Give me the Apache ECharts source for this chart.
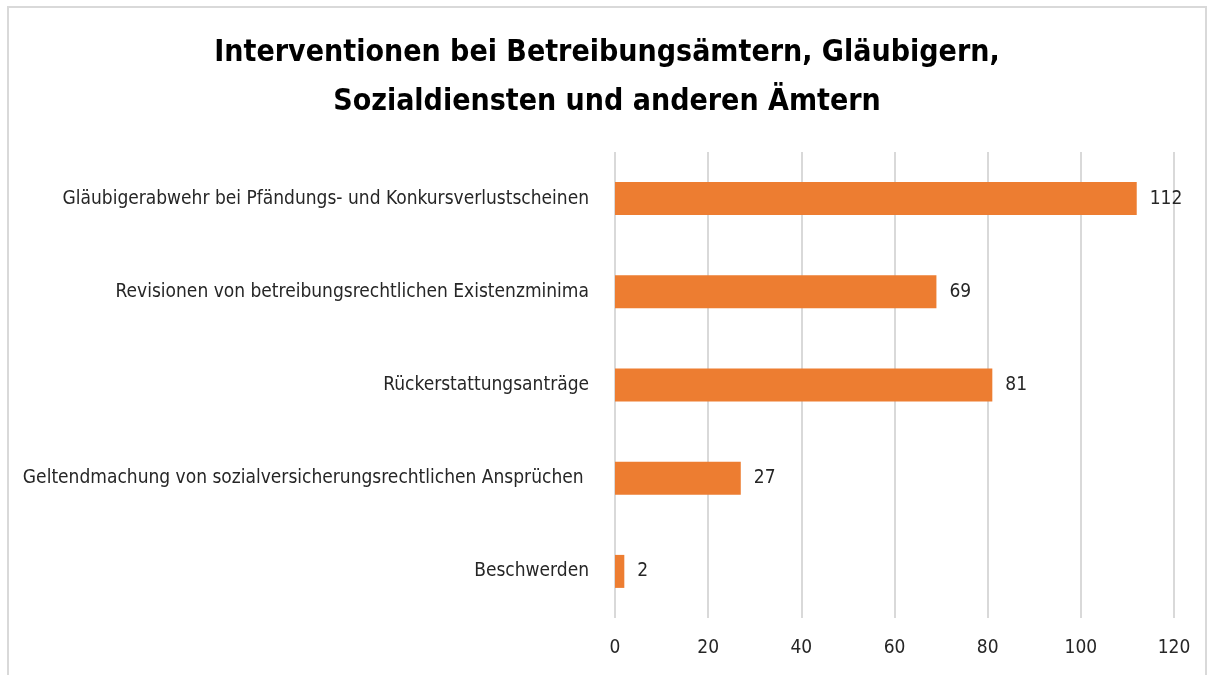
<!DOCTYPE html>
<html lang="de">
<head>
<meta charset="UTF-8">
<title>Interventionen</title>
<script src="https://cdn.jsdelivr.net/npm/echarts@6/dist/echarts.min.js"></script>
<style>
  html,body{margin:0;padding:0;background:#fff;}
  #main{width:1214px;height:675px;}
</style>
</head>
<body>
<div id="main"></div>
<script>
  // Daten
  var kategorien = [
    'Beschwerden',
    'Geltendmachung von sozialversicherungsrechtlichen Ansprüchen ',
    'Rückerstattungsanträge',
    'Revisionen von betreibungsrechtlichen Existenzminima',
    'Gläubigerabwehr bei Pfändungs- und Konkursverlustscheinen'
  ];
  var werte = [2, 27, 81, 69, 112];
  var achseMax = 120;
  var achseSchritt = 20;

  var schrift = '"Liberation Sans Narrow", "DejaVu Sans Condensed", sans-serif';

  var myChart = echarts.init(document.getElementById('main'));
  var option = {
    backgroundColor: '#fff',
    title: {
      text: 'Interventionen bei Betreibungsämtern, Gläubigern,\nSozialdiensten und anderen Ämtern',
      left: 'center',
      top: 24,
      textStyle: {
        fontFamily: schrift,
        fontWeight: 'bold',
        fontSize: 30,
        lineHeight: 49,
        color: '#000'
      }
    },
    graphic: [{
      type: 'rect',
      shape: {x: 8, y: 7, width: 1198, height: 700},
      style: {fill: 'none', stroke: '#d9d9d9', lineWidth: 2},
      silent: true
    }],
    grid: {left: 615, right: 40, top: 152, bottom: 57},
    xAxis: {
      type: 'value',
      min: 0,
      max: achseMax,
      interval: achseSchritt,
      axisLine: {show: false},
      axisTick: {show: false},
      axisLabel: {
        margin: 21,
        fontFamily: schrift,
        fontSize: 19,
        color: '#262626'
      },
      splitLine: {lineStyle: {color: '#d9d9d9', width: 2}}
    },
    yAxis: {
      type: 'category',
      data: kategorien,
      axisLine: {show: false},
      axisTick: {show: false},
      axisLabel: {
        margin: 26,
        fontFamily: schrift,
        fontSize: 19,
        color: '#262626'
      }
    },
    series: [{
      type: 'bar',
      data: werte,
      barWidth: 33,
      itemStyle: {color: '#ED7D31'},
      label: {
        show: true,
        position: 'right',
        distance: 13,
        fontFamily: schrift,
        fontSize: 19,
        color: '#262626'
      }
    }]
  };
  myChart.setOption(option);
</script>
</body>
</html>
